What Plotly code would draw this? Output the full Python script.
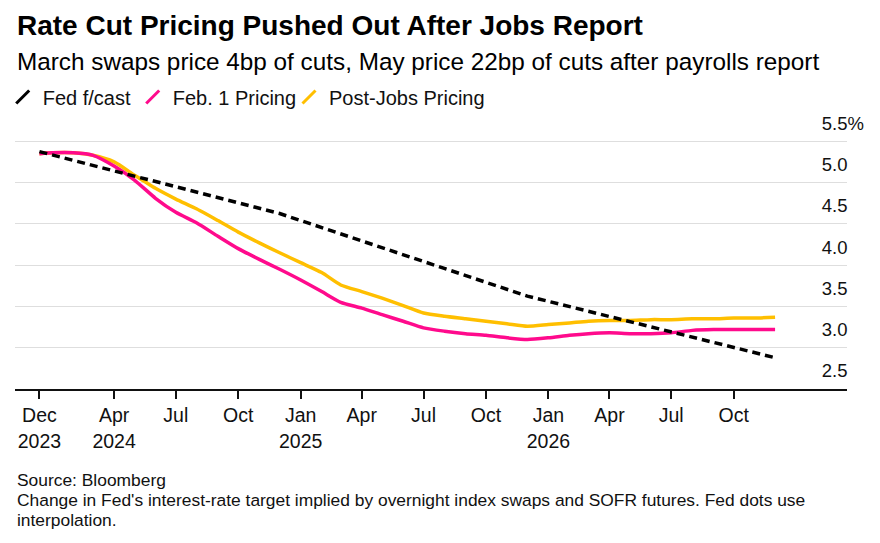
import plotly.graph_objects as go

dates = ["2023-12-13", "2024-01-01", "2024-02-01", "2024-03-01", "2024-04-01", "2024-05-01",
         "2024-06-01", "2024-07-01", "2024-08-01", "2024-09-01", "2024-10-01", "2024-11-01",
         "2024-12-01", "2025-01-01", "2025-02-01", "2025-03-01", "2025-04-01", "2025-05-01",
         "2025-06-01", "2025-07-01", "2025-08-01", "2025-09-01", "2025-10-01", "2025-11-01",
         "2025-12-01", "2026-01-01", "2026-02-01", "2026-03-01", "2026-04-01", "2026-05-01",
         "2026-06-01", "2026-07-01", "2026-08-01", "2026-09-01", "2026-10-01", "2026-11-01",
         "2026-12-01"]

feb1_pricing = [5.35, 5.36, 5.36, 5.33, 5.20, 5.03, 4.81, 4.64, 4.51, 4.35, 4.20, 4.07,
                3.95, 3.82, 3.68, 3.55, 3.48, 3.40, 3.32, 3.24, 3.20, 3.17, 3.15, 3.12,
                3.10, 3.12, 3.15, 3.17, 3.18, 3.17, 3.17, 3.18, 3.21, 3.22, 3.22, 3.22,
                3.22]

post_jobs_pricing = [5.35, 5.36, 5.36, 5.33, 5.25, 5.09, 4.93, 4.80, 4.68, 4.54, 4.40, 4.27,
                     4.15, 4.03, 3.91, 3.76, 3.68, 3.60, 3.51, 3.42, 3.38, 3.35, 3.32, 3.29,
                     3.26, 3.28, 3.30, 3.32, 3.33, 3.33, 3.34, 3.34, 3.35, 3.35, 3.36, 3.36,
                     3.37]

fed_dates = ["2023-12-13", "2024-12-01", "2025-12-01", "2026-12-03"]
fed_forecast = [5.375, 4.625, 3.625, 2.875]

x_tickvals = ["2023-12-13", "2024-04-01", "2024-07-01", "2024-10-01", "2025-01-01",
              "2025-04-01", "2025-07-01", "2025-10-01", "2026-01-01", "2026-04-01",
              "2026-07-01", "2026-10-01"]
x_ticktext = ["Dec<br>2023", "Apr<br>2024", "Jul", "Oct", "Jan<br>2025", "Apr", "Jul", "Oct",
              "Jan<br>2026", "Apr", "Jul", "Oct"]

y_tickvals = [2.5, 3.0, 3.5, 4.0, 4.5, 5.0, 5.5]
y_ticktext = ["2.5", "3.0", "3.5", "4.0", "4.5", "5.0", "5.5%"]

PINK = "#FF0A8C"
YELLOW = "#FFBF00"
FONT = "Liberation Sans, Arial, sans-serif"

# page offset of the figure inside the browser (body margin)
OFF = 8
Y_MIN, Y_MAX = 2.5, 6.0          # axis range (top padded so the 5.5% label shows)
UNIT = 248 / 3.0                 # pixels per percentage point
L, R, B = 7, 839, 381            # plot area in figure pixels
T = round(B - (Y_MAX - Y_MIN) * UNIT)
W, H = R - L, B - T


def px_x(sx):
    return (sx - OFF - L) / W


def px_y(sy):
    return (B - (sy - OFF)) / H


hidden_pct = "<span style='color:rgba(0,0,0,0)'>%</span>"
y_labels = [t if t.endswith("%") else t + hidden_pct for t in y_ticktext]

fig = go.Figure()

fig.add_trace(go.Scatter(x=dates, y=post_jobs_pricing, mode="lines", name="Post-Jobs Pricing",
                         line=dict(color=YELLOW, width=3.5, shape="spline", smoothing=0.6),
                         showlegend=False, hoverinfo="skip"))
fig.add_trace(go.Scatter(x=dates, y=feb1_pricing, mode="lines", name="Feb. 1 Pricing",
                         line=dict(color=PINK, width=3.5, shape="spline", smoothing=0.6),
                         showlegend=False, hoverinfo="skip"))
fig.add_trace(go.Scatter(x=fed_dates, y=fed_forecast, mode="lines", name="Fed f/cast",
                         line=dict(color="black", width=3.5, dash="8px,5px"),
                         showlegend=False, hoverinfo="skip"))

legend_items = [("Fed f/cast", "black", "legend", 41.7),
                ("Feb. 1 Pricing", PINK, "legend2", 171.7),
                ("Post-Jobs Pricing", YELLOW, "legend3", 328)]
legend_layout = {}
for name, col, lg, text_x in legend_items:
    fig.add_trace(go.Scatter(x=[None], y=[None], mode="markers", name=name, legend=lg,
                             marker=dict(symbol="line-ne", size=13, color=col,
                                         line=dict(color=col, width=3))))
    legend_layout[lg] = dict(orientation="h", x=px_x(text_x - 39), y=px_y(97),
                             xanchor="left", yanchor="middle",
                             font=dict(size=20, family=FONT, color="#111"),
                             itemwidth=30, bgcolor="rgba(0,0,0,0)")

fig.update_layout(
    width=880, height=543,
    margin=dict(l=L, r=880 - R, t=T, b=543 - B, autoexpand=False),
    paper_bgcolor="white", plot_bgcolor="white",
    font=dict(family=FONT, color="#111"),
    showlegend=True,
    **legend_layout,
)

fig.update_xaxes(
    type="date", range=["2023-11-07", "2027-03-17"],
    tickmode="array", tickvals=x_tickvals, ticktext=x_ticktext,
    ticks="outside", ticklen=8, tickwidth=1.5, tickcolor="#111",
    showline=True, linecolor="#111", linewidth=1.5,
    showgrid=False, zeroline=False, automargin=False,
    tickfont=dict(size=19.5, family=FONT, color="#111"),
)

fig.update_yaxes(
    range=[Y_MIN, Y_MAX], side="right",
    tickmode="array", tickvals=y_tickvals, ticktext=y_labels,
    ticklabelposition="inside", ticklabelshift=-18, ticklabelstandoff=-20,
    ticks="", showgrid=True, gridcolor="#dedede", gridwidth=1.3,
    zeroline=False, showline=False, automargin=False,
    tickfont=dict(size=18.5, family=FONT, color="#111"),
)

fig.add_annotation(text="<b>Rate Cut Pricing Pushed Out After Jobs Report</b>",
                   xref="paper", yref="paper", x=px_x(15), y=px_y(25),
                   xanchor="left", yanchor="middle", showarrow=False,
                   font=dict(size=28, family=FONT, color="#000"))
fig.add_annotation(text="March swaps price 4bp of cuts, May price 22bp of cuts after payrolls report",
                   xref="paper", yref="paper", x=px_x(15), y=px_y(62),
                   xanchor="left", yanchor="middle", showarrow=False,
                   font=dict(size=24.3, family=FONT, color="#000"))

footer_lines = ["Source: Bloomberg",
                "Change in Fed's interest-rate target implied by overnight index swaps and SOFR futures. Fed dots use",
                "interpolation."]
for i, line in enumerate(footer_lines):
    fig.add_annotation(text=line, xref="paper", yref="paper", x=px_x(15), y=px_y(480 + 20 * i),
                       xanchor="left", yanchor="middle", align="left", showarrow=False,
                       font=dict(size=17.4, family=FONT, color="#111"))

fig.write_html("out.html")
